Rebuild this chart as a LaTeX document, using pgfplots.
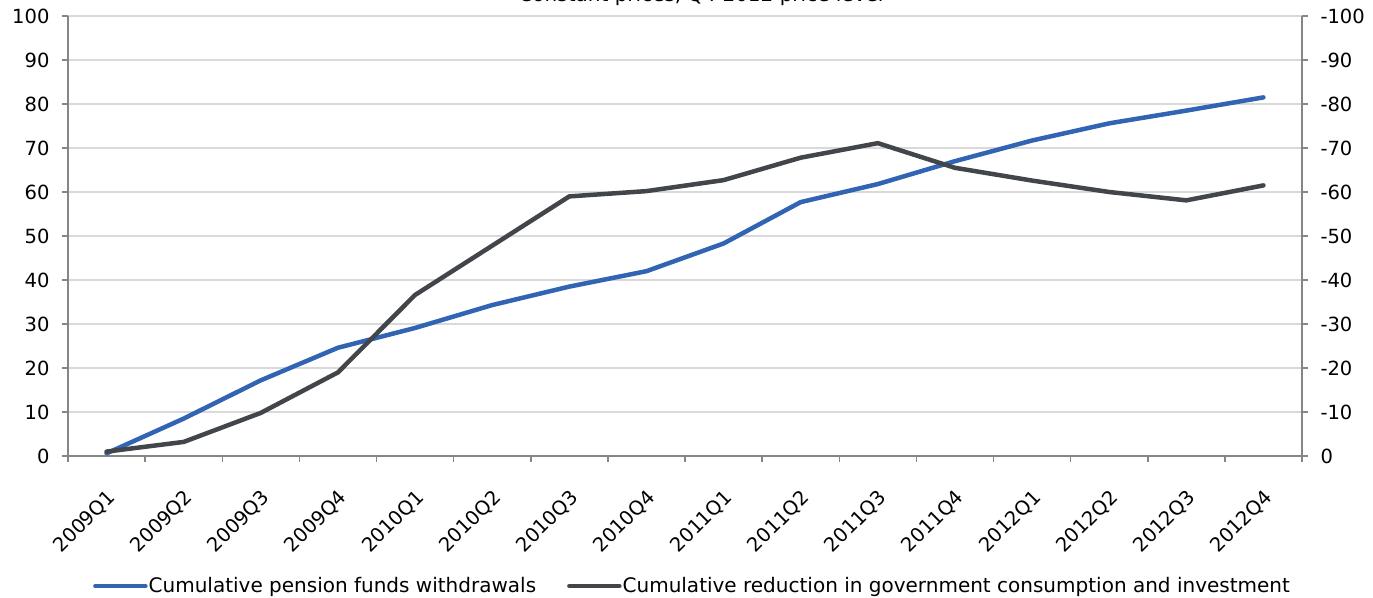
\documentclass[border=0pt]{standalone}
\usepackage{pgfplots}
\usepackage{pgfplotstable}
\pgfplotsset{compat=1.18}
\usepackage{fontspec}
\setmainfont{DejaVu Sans}

\definecolor{pensionblue}{RGB}{50,100,180}
\definecolor{govgray}{RGB}{66,70,74}
\definecolor{axisgray}{RGB}{134,134,134}
\definecolor{gridgray}{RGB}{217,217,217}

% Cumulative pension funds withdrawals (left axis)
\pgfplotstableread{
idx value
0 0.6
1 8.5
2 17.2
3 24.6
4 29.1
5 34.3
6 38.5
7 42.0
8 48.3
9 57.7
10 61.8
11 67.0
12 71.7
13 75.6
14 78.5
15 81.5
}\pension

% Cumulative reduction in government consumption and investment (right axis)
\pgfplotstableread{
idx value
0 -1.0
1 -3.2
2 -9.8
3 -19.0
4 -36.6
5 -47.8
6 -59.0
7 -60.2
8 -62.7
9 -67.8
10 -71.1
11 -65.5
12 -62.6
13 -60.0
14 -58.1
15 -61.5
}\govcut

\pgfplotsset{
  common/.style={
    at={(68pt,141pt)}, anchor=south west,
    scale only axis, width=1234pt, height=440pt,
    xmin=-0.5, xmax=15.5,
    axis line style={draw=axisgray, line width=1.5pt},
    tick style={draw=axisgray, line width=1.5pt},
    tick align=outside,
    major tick length=6pt, minor tick length=6pt,
    /pgf/number format/assume math mode=true,
    ticklabel style={font=\fontsize{19.5}{22}\selectfont, text=black},
    clip=false,
  },
}

\begin{document}
\begin{tikzpicture}
% heading, cut by the top edge
\begin{scope}
  \clip (0pt,0pt) rectangle (1373pt,597pt);
  \node[anchor=base, font=\fontsize{20}{24}\selectfont, inner sep=0pt]
    at (701pt,595pt) {Constant prices, Q4 2012 price level};
\end{scope}

\begin{axis}[common,
  ymin=0, ymax=100, ytick={0,10,...,100},
  axis x line*=bottom, axis y line*=left,
  ymajorgrids, grid style={draw=gridgray, line width=1.5pt},
  xtick={0,...,15},
  xticklabels={2009Q1,2009Q2,2009Q3,2009Q4,2010Q1,2010Q2,2010Q3,2010Q4,
               2011Q1,2011Q2,2011Q3,2011Q4,2012Q1,2012Q2,2012Q3,2012Q4},
  major x tick style={draw=none},
  minor xtick={-0.5,0.5,...,15.5},
  xticklabel style={xshift=8pt, yshift=-30pt, rotate=45, anchor=east},
  yticklabel style={xshift=-9pt},
]
\addplot[pensionblue, line width=4.5pt, line join=round, line cap=round]
  table[x=idx, y=value] {\pension};
\end{axis}

\begin{axis}[common,
  ymin=-100, ymax=0, y dir=reverse, ytick={-100,-90,...,0},
  axis x line=none, axis y line*=right,
  yticklabel style={xshift=9pt},
  legend columns=2,
  legend style={at={(0.5057,-0.2955)}, anchor=center, draw=none, fill=none,
    font=\fontsize{20}{24}\selectfont, inner sep=0pt,
    nodes={inner sep=1pt},
    /tikz/every even column/.append style={column sep=30pt}},
  legend image code/.code={\draw[#1, line width=4.5pt, line cap=round] (0pt,0pt) -- (50pt,0pt);},
]
\addlegendimage{pensionblue}
\addlegendentry{Cumulative pension funds withdrawals}
\addplot[govgray, line width=4.5pt, line join=round, line cap=round]
  table[x=idx, y=value] {\govcut};
\addlegendentry{Cumulative reduction in government consumption and investment}
\end{axis}

\pgfresetboundingbox
\useasboundingbox (0pt,0pt) rectangle (1373pt,597pt);
\end{tikzpicture}
\end{document}
